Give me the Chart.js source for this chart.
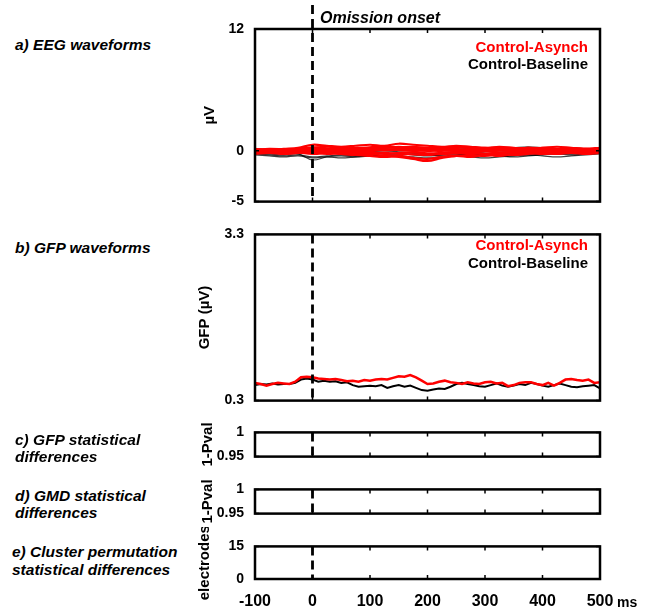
<!DOCTYPE html>
<html lang="en">
<head>
<meta charset="utf-8">
<title>Omission onset - EEG / GFP</title>
<script src="https://cdn.jsdelivr.net/npm/chart.js@4.4.0/dist/chart.umd.min.js"></script>
<style>
  * { font-family: "Liberation Sans", Arial, sans-serif; }
  body { margin: 0; background: #fff; }
  #fig { position: relative; width: 646px; height: 610px; overflow: hidden; }
  canvas { position: absolute; left: 190px; }
  .lab { position: absolute; font-weight: bold; font-style: italic; font-size: 15.5px; line-height: 16.5px; white-space: nowrap; color: #000; }
  .leg { position: absolute; right: 58px; font-weight: bold; font-size: 15px; line-height: 17px; text-align: right; white-space: nowrap; }
  .red { color: #ff0000; }
</style>
</head>
<body>
<div id="fig">
  <canvas id="pa" width="456" height="221" style="top:0px"></canvas>
  <canvas id="pb" width="456" height="205" style="top:215px"></canvas>
  <canvas id="pc" width="456" height="63" style="top:413px"></canvas>
  <canvas id="pd" width="456" height="63" style="top:470px"></canvas>
  <canvas id="pe" width="456" height="83" style="top:527px"></canvas>

  <div class="lab" style="left:320px; top:9px; font-size:16px; line-height:18px;">Omission onset</div>
  <div class="lab" style="left:15px; top:37px;">a) EEG waveforms</div>
  <div class="lab" style="left:15px; top:240px;">b) GFP waveforms</div>
  <div class="lab" style="left:15px; top:432px;">c) GFP statistical<br>differences</div>
  <div class="lab" style="left:15px; top:488px;">d) GMD statistical<br>differences</div>
  <div class="lab" style="left:12px; top:543px; line-height:17.5px;">e) Cluster permutation<br>statistical differences</div>

  <div class="leg red" style="top:38px;">Control-Asynch</div>
  <div class="leg" style="top:55px;">Control-Baseline</div>
  <div class="leg red" style="top:236px;">Control-Asynch</div>
  <div class="leg" style="top:254px;">Control-Baseline</div>

  <div style="position:absolute; left:617px; top:594px; font-weight:bold; font-size:14px;">ms</div>
</div>

<script>
// ---- data ----
var xTicks = [-100, 0, 100, 200, 300, 400, 500];

// EEG traces, one value every 25 ms from -100 to 500 ms (uV)
var eegTime = [-100,-75,-50,-25,0,25,50,75,100,125,150,175,200,225,250,275,300,325,350,375,400,425,450,475,500];
var asynchTraces = [
  [0.1,0.2,0.15,0.1,0.3,0.4,0.3,0.2,0.3,0.4,0.3,0.2,0.3,0.2,0.1,0.2,0.3,0.2,0.1,0.2,0.3,0.2,0.1,0.2,0.1],
  [-0.2,-0.1,-0.2,-0.1,0,0.1,0,-0.1,0,0.1,0.2,0.1,0,0.1,0,-0.1,0,0.1,0,-0.1,0,0.1,0,-0.1,0],
  [0,0.1,0,0.1,0.2,0.1,0.2,0.3,0.2,0.3,0.4,0.3,0.2,0.3,0.4,0.3,0.2,0.1,0.2,0.3,0.2,0.1,0.2,0.1,0],
  [-0.3,-0.2,-0.3,-0.2,-0.1,-0.3,-0.2,-0.4,-0.5,-0.6,-0.5,-0.7,-0.8,-0.6,-0.5,-0.4,-0.5,-0.3,-0.4,-0.3,-0.2,-0.3,-0.2,-0.3,-0.2],
  [0.2,0.1,0.2,0.3,0.6,0.5,0.4,0.5,0.6,0.5,0.7,0.6,0.5,0.4,0.5,0.4,0.3,0.4,0.3,0.2,0.3,0.4,0.3,0.2,0.3],
  [-0.1,0,-0.1,0,0.1,-0.2,-0.3,-0.4,-0.3,-0.5,-0.6,-0.8,-1.0,-0.7,-0.5,-0.6,-0.4,-0.5,-0.3,-0.2,-0.3,-0.2,-0.1,-0.2,-0.1],
  [0.05,0,0.1,0.05,0.2,0,0.1,0,0.05,0.15,0.1,0.2,0.1,0.15,0.05,0.1,0.2,0.1,0.05,0,0.1,0.05,0,0.1,0],
  [-0.1,-0.2,-0.1,-0.15,-0.3,-0.2,-0.1,-0.2,-0.25,-0.2,-0.3,-0.35,-0.4,-0.3,-0.25,-0.2,-0.3,-0.2,-0.15,-0.2,-0.1,-0.2,-0.1,-0.15,-0.1],
  [0.15,0.05,0.1,0.2,0.35,0.25,0.15,0.25,0.35,0.45,0.35,0.4,0.3,0.25,0.3,0.35,0.25,0.3,0.2,0.3,0.25,0.15,0.25,0.2,0.15],
  [-0.05,-0.15,-0.05,-0.1,-0.2,-0.1,-0.25,-0.15,-0.1,-0.3,-0.2,-0.15,-0.25,-0.2,-0.1,-0.15,-0.05,-0.15,-0.1,-0.05,-0.15,-0.1,-0.05,-0.1,-0.05],
  [0,0.05,-0.05,0,0.1,0.15,0.05,0.1,0.15,0.05,0.1,0,0.05,0,0.1,0.05,0.1,0.05,0.15,0.1,0.05,0.1,0.15,0.05,0]
];
var baselineTraces = [
  [-0.3,-0.4,-0.5,-0.4,-0.6,-0.5,-0.4,-0.5,-0.4,-0.5,-0.4,-0.3,-0.4,-0.5,-0.4,-0.3,-0.4,-0.5,-0.6,-0.5,-0.4,-0.3,-0.4,-0.3,-0.2],
  [0.1,0.2,0.1,0,0.1,0.2,0.3,0.2,0.1,0.2,0.1,0,0.1,0.2,0.1,0,0.1,0.2,0.3,0.2,0.1,0.2,0.3,0.2,0.1],
  [-0.2,-0.3,-0.4,-0.3,-0.9,-0.6,-0.5,-0.6,-0.5,-0.4,-0.3,-0.4,-0.5,-0.4,-0.3,-0.4,-0.3,-0.2,-0.3,-0.4,-0.3,-0.2,-0.3,-0.2,-0.1],
  [0,-0.1,0,-0.2,-0.1,0,-0.1,-0.2,-0.1,0,-0.1,-0.2,-0.3,-0.2,-0.1,-0.2,-0.1,0,-0.1,-0.2,-0.3,-0.2,-0.1,0,-0.1],
  [-0.4,-0.5,-0.6,-0.5,-0.7,-0.6,-0.7,-0.6,-0.5,-0.6,-0.5,-0.6,-0.7,-0.6,-0.5,-0.6,-0.7,-0.6,-0.5,-0.4,-0.5,-0.6,-0.5,-0.4,-0.3],
  [0.2,0.1,0.2,0.1,0.3,0.2,0.1,0.2,0.3,0.2,0.1,0.2,0.1,0.2,0.3,0.2,0.1,0.2,0.3,0.4,0.3,0.2,0.1,0.2,0.1]
];

// GFP, one value every 10 ms from -100 to 500 ms (uV)
var gfpTime = [-100,-90,-80,-70,-60,-50,-40,-30,-20,-10,0,10,20,30,40,50,60,70,80,90,
  100,110,120,130,140,150,160,170,180,190,200,210,220,230,240,250,260,270,280,290,
  300,310,320,330,340,350,360,370,380,390,400,410,420,430,440,450,460,470,480,490,500];
var gfpAsynch = [0.62,0.60,0.57,0.60,0.62,0.61,0.60,0.64,0.72,0.73,0.72,0.70,0.69,0.68,0.69,0.67,0.65,0.66,0.64,0.67,
  0.66,0.68,0.69,0.68,0.71,0.74,0.73,0.76,0.72,0.66,0.60,0.61,0.64,0.66,0.63,0.62,0.60,0.63,0.61,0.60,
  0.63,0.64,0.61,0.62,0.56,0.58,0.62,0.63,0.63,0.60,0.58,0.62,0.57,0.62,0.68,0.69,0.67,0.66,0.68,0.62,0.63];
var gfpBaseline = [0.58,0.60,0.59,0.61,0.59,0.60,0.60,0.62,0.68,0.70,0.68,0.64,0.66,0.64,0.65,0.62,0.63,0.58,0.55,0.56,
  0.57,0.56,0.58,0.53,0.56,0.58,0.55,0.57,0.53,0.49,0.48,0.50,0.52,0.51,0.55,0.60,0.62,0.60,0.58,0.56,
  0.55,0.58,0.61,0.57,0.55,0.57,0.60,0.58,0.62,0.60,0.57,0.55,0.58,0.61,0.58,0.55,0.54,0.56,0.57,0.58,0.52];

// ---- helpers ----
function pts(xs, ys) {
  return xs.map(function(x, i) { return {x: x, y: ys[i]}; });
}

// box, inward ticks and dashed onset line (MATLAB look)
var framePlugin = {
  id: 'frame',
  afterDatasetsDraw: function(chart, args, opts) {
    var ctx = chart.ctx, a = chart.chartArea, x = chart.scales.x, y = chart.scales.y;
    ctx.save();
    ctx.strokeStyle = '#000';
    ctx.lineWidth = 2.5;
    ctx.strokeRect(a.left, a.top, a.right - a.left, a.bottom - a.top);
    ctx.lineWidth = 1.5;
    ctx.beginPath();
    xTicks.forEach(function(v) {
      var px = x.getPixelForValue(v);
      ctx.moveTo(px, a.top); ctx.lineTo(px, a.top + 4);
      ctx.moveTo(px, a.bottom); ctx.lineTo(px, a.bottom - 4);
    });
    y.ticks.forEach(function(tk) {
      var py = y.getPixelForValue(tk.value);
      ctx.moveTo(a.left, py); ctx.lineTo(a.left + 4, py);
      ctx.moveTo(a.right, py); ctx.lineTo(a.right - 4, py);
    });
    ctx.stroke();
    var x0 = x.getPixelForValue(0);
    ctx.setLineDash([9, 5]);
    ctx.lineWidth = 2.8;
    ctx.beginPath();
    ctx.moveTo(x0, a.top - (opts.extend || 0));
    ctx.lineTo(x0, a.bottom);
    ctx.stroke();
    ctx.restore();
  }
};

function makePanel(id, cfg) {
  var yTickVals = cfg.yTicks;
  var options = {
    responsive: false,
    animation: false,
    layout: { padding: { left: 0, right: 46, top: cfg.padTop, bottom: cfg.padBottom } },
    elements: { point: { radius: 0 } },
    plugins: { legend: { display: false }, tooltip: { enabled: false }, frame: { extend: cfg.extend || 0 } },
    scales: {
      x: {
        type: 'linear', min: -100, max: 500,
        display: cfg.showX ? true : false,
        grid: { display: false, drawTicks: false },
        border: { display: false },
        afterBuildTicks: function(s) { s.ticks = xTicks.map(function(v) { return {value: v}; }); },
        afterFit: function(s) { if (cfg.showX) s.height = 31; },
        ticks: { color: '#000', padding: 13, maxRotation: 0,
          callback: function(v) { return String(v); },
          font: { size: 16, weight: 'bold', family: '"Liberation Sans", Arial, sans-serif' } }
      },
      y: {
        min: cfg.yMin, max: cfg.yMax,
        grid: { display: false, drawTicks: false },
        border: { display: false },
        afterBuildTicks: function(s) { s.ticks = yTickVals.map(function(v) { return {value: v}; }); },
        afterFit: function(s) { s.width = 65; },
        ticks: { color: '#000', padding: 11,
          callback: function(v) { return String(v); },
          font: { size: 14, weight: 'bold', family: '"Liberation Sans", Arial, sans-serif' } },
        title: { display: true, text: cfg.yTitle, color: '#000', padding: { top: cfg.titlePad, bottom: 0 },
          font: { size: 15, weight: 'bold', family: '"Liberation Sans", Arial, sans-serif' } }
      }
    }
  };
  return new Chart(document.getElementById(id).getContext('2d'), {
    type: 'line',
    data: { datasets: cfg.datasets },
    options: options,
    plugins: [framePlugin]
  });
}

// ---- panel a: EEG waveforms ----
var eegSets = [];
asynchTraces.forEach(function(tr) {
  eegSets.push({ data: pts(eegTime, tr), borderColor: '#ff0000', borderWidth: 2.2, tension: 0.35, fill: false });
});
baselineTraces.forEach(function(tr) {
  eegSets.push({ data: pts(eegTime, tr), borderColor: 'rgba(0,0,0,0.75)', borderWidth: 1.2, tension: 0.35, fill: false });
});
makePanel('pa', { datasets: eegSets, yMin: -5, yMax: 12, yTicks: [-5, 0, 12], yTitle: 'µV', titlePad: 11,
  padTop: 29, padBottom: 12, extend: 24 });

// ---- panel b: GFP waveforms ----
makePanel('pb', {
  datasets: [
    { data: pts(gfpTime, gfpAsynch), borderColor: '#ff0000', borderWidth: 2.5, tension: 0, fill: false },
    { data: pts(gfpTime, gfpBaseline), borderColor: '#000', borderWidth: 2, tension: 0, fill: false }
  ],
  yMin: 0.3, yMax: 3.3, yTicks: [0.3, 3.3], yTitle: 'GFP (µV)', titlePad: 6, padTop: 12, padBottom: 12
});

// ---- panels c-e: statistics (no significant periods) ----
makePanel('pc', { datasets: [], yMin: 0.95, yMax: 1, yTicks: [0.95, 1], yTitle: '1-Pval', titlePad: 9, padTop: 12, padBottom: 12 });
makePanel('pd', { datasets: [], yMin: 0.95, yMax: 1, yTicks: [0.95, 1], yTitle: '1-Pval', titlePad: 9, padTop: 12, padBottom: 12 });
makePanel('pe', { datasets: [], yMin: 0, yMax: 15, yTicks: [0, 15], yTitle: 'electrodes', titlePad: 6, padTop: 12, padBottom: 0, showX: true });
</script>
</body>
</html>
